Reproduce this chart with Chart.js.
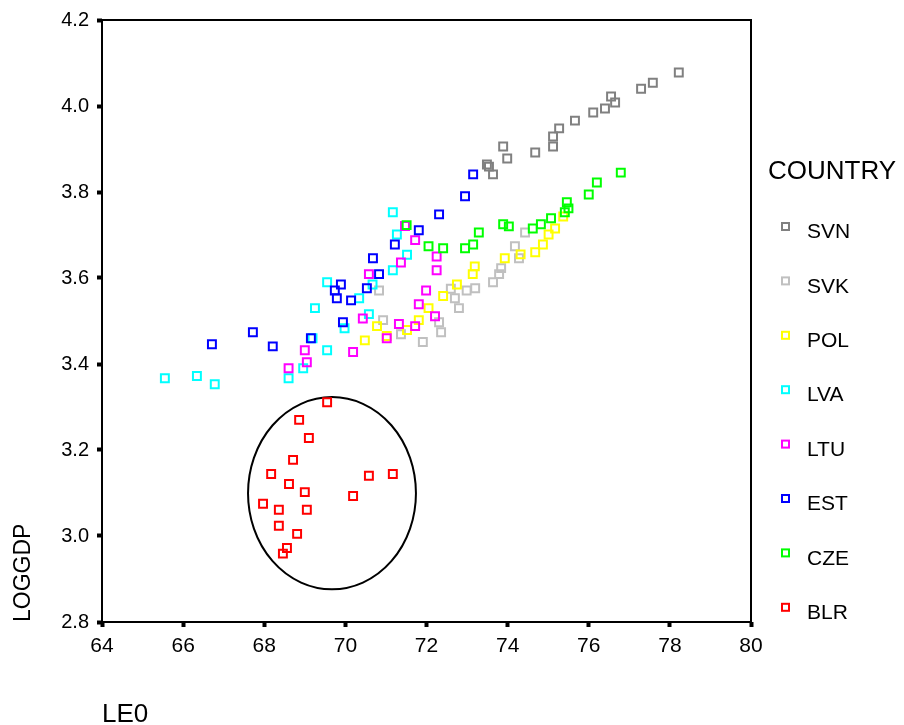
<!DOCTYPE html>
<html>
<head>
<meta charset="utf-8">
<script src="https://cdn.jsdelivr.net/npm/chart.js@4/dist/chart.umd.min.js"></script>
<style>
  html, body { margin: 0; padding: 0; background: #fff; }
  canvas { display: block; }
</style>
</head>
<body>
<canvas id="c" width="904" height="725"></canvas>
<script>
// ---- data ----
const countries = ['SVN', 'SVK', 'POL', 'LVA', 'LTU', 'EST', 'CZE', 'BLR'];

const svnLE0 = [73.49, 73.54, 73.64, 73.99, 73.89, 74.68, 75.12, 75.12, 75.27, 75.66, 76.11, 76.40, 76.65, 76.55, 77.29, 77.58, 78.22];
const svnLogGdp = [3.864, 3.859, 3.841, 3.878, 3.906, 3.892, 3.906, 3.929, 3.948, 3.966, 3.985, 3.994, 4.008, 4.022, 4.040, 4.054, 4.078];

const svkLE0 = [70.83, 70.93, 71.37, 71.91, 72.31, 72.36, 72.60, 72.70, 72.80, 72.99, 73.20, 73.64, 73.79, 73.84, 74.18, 74.28, 74.43];
const svkLogGdp = [3.571, 3.502, 3.469, 3.451, 3.497, 3.474, 3.575, 3.553, 3.530, 3.571, 3.576, 3.590, 3.609, 3.623, 3.674, 3.646, 3.706];

const polLE0 = [70.48, 70.78, 71.02, 71.52, 71.81, 72.05, 72.41, 72.75, 73.14, 73.19, 73.93, 74.32, 74.68, 74.87, 75.01, 75.17, 75.37];
const polLogGdp = [3.455, 3.488, 3.465, 3.479, 3.502, 3.530, 3.558, 3.585, 3.609, 3.627, 3.646, 3.655, 3.660, 3.678, 3.701, 3.715, 3.743];

const lvaLE0 = [71.17, 71.27, 71.52, 71.17, 69.55, 70.67, 70.34, 69.25, 70.58, 69.98, 69.19, 69.55, 68.96, 68.60, 65.55, 66.34, 66.78];
const lvaLogGdp = [3.753, 3.701, 3.654, 3.618, 3.590, 3.585, 3.553, 3.530, 3.516, 3.483, 3.460, 3.432, 3.390, 3.367, 3.367, 3.372, 3.353];

const ltuLE0 = [71.47, 71.72, 71.37, 70.58, 71.99, 71.81, 70.43, 71.32, 71.72, 71.02, 69.00, 70.19, 69.05, 68.60, 72.25, 72.25, 72.21];
const ltuLogGdp = [3.721, 3.688, 3.636, 3.609, 3.571, 3.539, 3.506, 3.493, 3.488, 3.460, 3.432, 3.428, 3.404, 3.390, 3.650, 3.618, 3.511];

const estLE0 = [71.81, 71.22, 70.68, 70.83, 69.89, 69.74, 70.53, 69.79, 70.14, 69.94, 69.15, 67.72, 68.21, 66.71, 73.15, 72.95, 72.31];
const estLogGdp = [3.711, 3.678, 3.646, 3.609, 3.585, 3.571, 3.576, 3.553, 3.548, 3.497, 3.460, 3.474, 3.441, 3.446, 3.841, 3.790, 3.748];

const czeLE0 = [71.51, 72.05, 72.41, 72.95, 73.15, 73.29, 73.89, 74.03, 74.62, 74.82, 75.07, 75.41, 75.46, 75.50, 76.00, 76.20, 76.79];
const czeLogGdp = [3.723, 3.674, 3.669, 3.669, 3.678, 3.706, 3.725, 3.720, 3.715, 3.725, 3.739, 3.753, 3.776, 3.762, 3.794, 3.822, 3.845];

const blrLE0 = [69.55, 68.86, 69.10, 68.71, 68.17, 70.58, 71.17, 68.61, 69.00, 70.19, 67.97, 68.36, 69.05, 68.36, 68.81, 68.56, 68.46];
const blrLogGdp = [3.311, 3.270, 3.228, 3.177, 3.144, 3.140, 3.144, 3.121, 3.102, 3.093, 3.075, 3.061, 3.061, 3.024, 3.005, 2.972, 2.959];

const xTickLabels = ['64', '66', '68', '70', '72', '74', '76', '78', '80'];
const yTickLabels = ['2.8', '3.0', '3.2', '3.4', '3.6', '3.8', '4.0', '4.2'];

// BLR ellipse annotation (data units): centre and radii
const ellipseCenter = [69.67, 3.0995];
const ellipseRadii = [2.07, 0.2236];

// ---- styles ----
const seriesColors = ['#808080', '#c0c0c0', '#ffff00', '#00ffff', '#ff00ff', '#0000ff', '#00ff00', '#ff0000'];
const FONT = "'Liberation Sans', Arial, sans-serif";

const seriesX = [svnLE0, svkLE0, polLE0, lvaLE0, ltuLE0, estLE0, czeLE0, blrLE0];
const seriesY = [svnLogGdp, svkLogGdp, polLogGdp, lvaLogGdp, ltuLogGdp, estLogGdp, czeLogGdp, blrLogGdp];

const datasets = countries.map((name, i) => ({
  label: name,
  data: seriesX[i].map((x, k) => ({ x: x, y: seriesY[i][k] })),
  pointStyle: 'rect',
  pointRadius: 5.6,
  pointHoverRadius: 5.6,
  pointBorderWidth: 2,
  pointBackgroundColor: 'rgba(0,0,0,0)',
  borderColor: seriesColors[i],
  backgroundColor: 'rgba(0,0,0,0)',
  order: countries.length - i
}));

const framePlugin = {
  id: 'frame',
  beforeDatasetsDraw(chart) {
    const { ctx, chartArea: a, scales } = chart;
    ctx.save();
    ctx.strokeStyle = '#000';
    ctx.lineWidth = 2;
    ctx.strokeRect(a.left, a.top, a.right - a.left, a.bottom - a.top);
    // ellipse around BLR
    const cx = scales.x.getPixelForValue(ellipseCenter[0]);
    const cy = scales.y.getPixelForValue(ellipseCenter[1]);
    const rx = Math.abs(scales.x.getPixelForValue(ellipseCenter[0] + ellipseRadii[0]) - cx);
    const ry = Math.abs(scales.y.getPixelForValue(ellipseCenter[1] + ellipseRadii[1]) - cy);
    ctx.beginPath();
    ctx.ellipse(cx, cy, rx, ry, 0, 0, Math.PI * 2);
    ctx.lineWidth = 2;
    ctx.stroke();
    ctx.restore();
  }
};

const legendPlugin = {
  id: 'spssLegend',
  afterDraw(chart) {
    const { ctx, chartArea: a } = chart;
    ctx.save();
    ctx.fillStyle = '#000';
    ctx.textBaseline = 'middle';
    ctx.textAlign = 'left';
    ctx.font = '26px ' + FONT;
    ctx.fillText('COUNTRY', a.right + 17, 172);
    ctx.font = '21px ' + FONT;
    chart.data.datasets.forEach((ds, i) => {
      const y = 231.5 + 54.4 * i;
      ctx.fillStyle = '#000';
      ctx.fillText(ds.label, a.right + 56, y + 1);
      ctx.strokeStyle = ds.borderColor;
      ctx.lineWidth = 2;
      ctx.strokeRect(a.right + 31, y - 8.5, 7, 7);
    });
    ctx.restore();
  }
};

new Chart(document.getElementById('c'), {
  type: 'scatter',
  data: { datasets: datasets },
  plugins: [framePlugin, legendPlugin],
  options: {
    responsive: false,
    animation: false,
    devicePixelRatio: 1,
    layout: { padding: { top: 19, right: 153, bottom: 0, left: 0 } },
    plugins: { legend: { display: false }, tooltip: { enabled: false } },
    scales: {
      x: {
        type: 'linear',
        min: 64, max: 80,
        afterBuildTicks(s) { s.ticks = xTickLabels.map(v => ({ value: Number(v) })); },
        afterFit(s) { s.height = 103; },
        grid: { drawOnChartArea: false, drawTicks: true, tickLength: 5, tickWidth: 4, tickColor: '#000' },
        border: { display: false },
        ticks: {
          color: '#000', padding: 7, font: { family: FONT, size: 21 },
          callback: (v, i) => xTickLabels[i]
        },
        title: {
          display: true, text: 'LE0', align: 'start', color: '#000',
          font: { family: FONT, size: 26, lineHeight: 0.8 }, padding: { top: 0, bottom: 0 }
        }
      },
      y: {
        type: 'linear',
        min: 2.8, max: 4.2,
        afterBuildTicks(s) { s.ticks = yTickLabels.map(v => ({ value: Number(v) })); },
        afterFit(s) { s.width = 102; },
        grid: { drawOnChartArea: false, drawTicks: true, tickLength: 5, tickWidth: 4, tickColor: '#000' },
        border: { display: false },
        ticks: {
          color: '#000', padding: 8, font: { family: FONT, size: 20 },
          callback: (v, i) => yTickLabels[i]
        },
        title: {
          display: true, text: 'LOGGDP', align: 'start', color: '#000',
          font: { family: FONT, size: 23, lineHeight: 1 }, padding: { top: 12, bottom: 0 }
        }
      }
    }
  }
});
</script>
</body>
</html>
